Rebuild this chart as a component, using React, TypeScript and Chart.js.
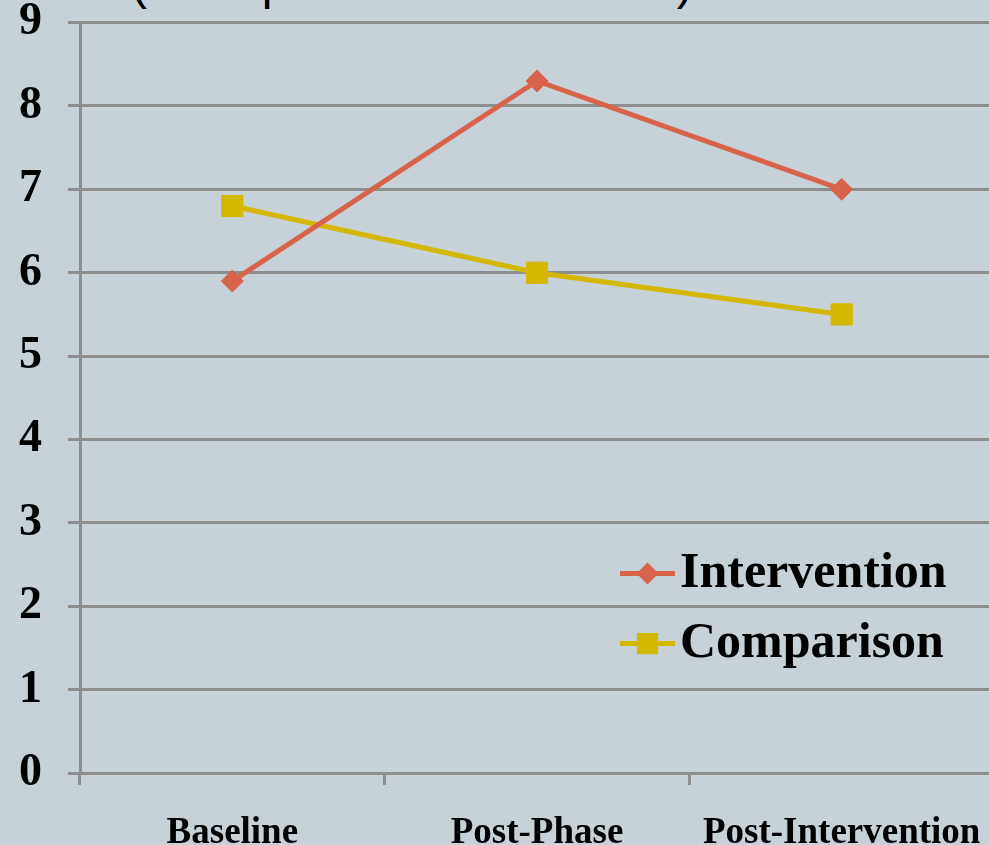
import React, { useEffect, useRef } from "react";
import { Chart, registerables } from "chart.js";

Chart.register(...registerables);

const categories = ["Baseline", "Post-Phase", "Post-Intervention"];
const interventionValues = [5.9, 8.3, 7.0];
const comparisonValues = [6.8, 6.0, 5.5];
const seriesNames = ["Intervention", "Comparison"];
const yMin = 0;
const yMax = 9;
const yStep = 1;
const titleText = "(Total possible score = 10)";

const BG = "#c6d1d8";
const GRID = "#8e8e8e";
const RED = "#d9634a";
const YELLOW = "#d4b800";

const insideLegend = {
  id: "insideLegend",
  afterDatasetsDraw(chart: any, _args: any, opts: any) {
    const { ctx, chartArea } = chart;
    ctx.save();
    chart.data.datasets.forEach((ds: any, i: number) => {
      const y = chartArea.top + opts.top + i * opts.gap;
      const x0 = chartArea.left + opts.left;
      ctx.strokeStyle = ds.borderColor;
      ctx.lineWidth = ds.borderWidth;
      ctx.beginPath();
      ctx.moveTo(x0, y);
      ctx.lineTo(x0 + opts.lineLen, y);
      ctx.stroke();
      const cx = x0 + opts.lineLen / 2;
      ctx.fillStyle = ds.pointBackgroundColor;
      ctx.beginPath();
      if (ds.pointStyle === "rectRot") {
        const r = ds.pointRadius;
        ctx.moveTo(cx - r, y);
        ctx.lineTo(cx, y - r);
        ctx.lineTo(cx + r, y);
        ctx.lineTo(cx, y + r);
        ctx.closePath();
      } else {
        const s = Math.SQRT1_2 * ds.pointRadius;
        ctx.rect(cx - s, y - s, 2 * s, 2 * s);
      }
      ctx.fill();
      ctx.fillStyle = opts.color;
      ctx.font = opts.font;
      ctx.textBaseline = "middle";
      ctx.textAlign = "left";
      ctx.fillText(ds.label, x0 + opts.lineLen + opts.textGap, y);
    });
    ctx.restore();
  },
};

export default function App() {
  const ref = useRef<HTMLCanvasElement | null>(null);
  useEffect(() => {
    if (!ref.current) return;
    const chart = new Chart(ref.current, {
      type: "line",
      data: {
        labels: categories,
        datasets: [
          {
            label: seriesNames[0],
            data: interventionValues,
            borderColor: RED,
            backgroundColor: RED,
            pointBackgroundColor: RED,
            pointBorderColor: RED,
            pointStyle: "rectRot",
            pointRadius: 11,
            pointBorderWidth: 1,
            borderWidth: 5,
            tension: 0,
          },
          {
            label: seriesNames[1],
            data: comparisonValues,
            borderColor: YELLOW,
            backgroundColor: YELLOW,
            pointBackgroundColor: YELLOW,
            pointBorderColor: YELLOW,
            pointStyle: "rect",
            pointRadius: 15,
            pointBorderWidth: 1,
            borderWidth: 5,
            tension: 0,
          },
        ],
      },
      options: {
        animation: false,
        responsive: false,
        devicePixelRatio: 1,
        layout: { padding: { top: 31, left: 0, right: 0, bottom: 0 } },
        plugins: {
          legend: { display: false },
          title: { display: false },
          tooltip: { enabled: false },
          insideLegend: {
            left: 540,
            top: 551,
            gap: 70,
            lineLen: 55,
            textGap: 5,
            color: "#000",
            font: "bold 50px 'Liberation Serif'",
          },
        } as any,
        scales: {
          x: {
            type: "category",
            offset: true,
            afterFit: (s: any) => {
              s.height = 72;
            },
            grid: {
              offset: true,
              drawOnChartArea: false,
              drawTicks: true,
              tickLength: 12,
              color: GRID,
              lineWidth: 3,
            },
            border: { display: true, color: GRID, width: 3 },
            ticks: {
              color: "#000",
              padding: 26,
              maxRotation: 0,
              autoSkip: false,
              font: { family: "'Liberation Serif'", size: 37, weight: "bold" },
            },
          },
          y: {
            min: yMin,
            max: yMax,
            afterFit: (s: any) => {
              s.width = 80;
            },
            grid: {
              color: GRID,
              lineWidth: 3,
              tickLength: 12,
              drawTicks: true,
            },
            border: { display: true, color: GRID, width: 3 },
            ticks: {
              stepSize: yStep,
              color: "#000",
              padding: 26,
              font: { family: "'Liberation Serif'", size: 46, weight: "bold" },
            },
          },
        },
      },
      plugins: [insideLegend],
    });
    return () => chart.destroy();
  }, []);

  return (
    <div
      style={{
        position: "fixed",
        left: 0,
        top: 0,
        width: 989,
        height: 845,
        overflow: "hidden",
        background: BG,
      }}
    >
      <div
        style={{
          position: "absolute",
          left: 131,
          top: -41,
          fontFamily: "'Liberation Sans', Arial, sans-serif",
          fontSize: 48,
          lineHeight: "48px",
          whiteSpace: "nowrap",
          color: "#000",
        }}
      >
        {titleText}
      </div>
      <canvas
        ref={ref}
        width={1010}
        height={876}
        style={{ position: "absolute", left: 0, top: -31, width: 1010, height: 876 }}
      />
    </div>
  );
}
